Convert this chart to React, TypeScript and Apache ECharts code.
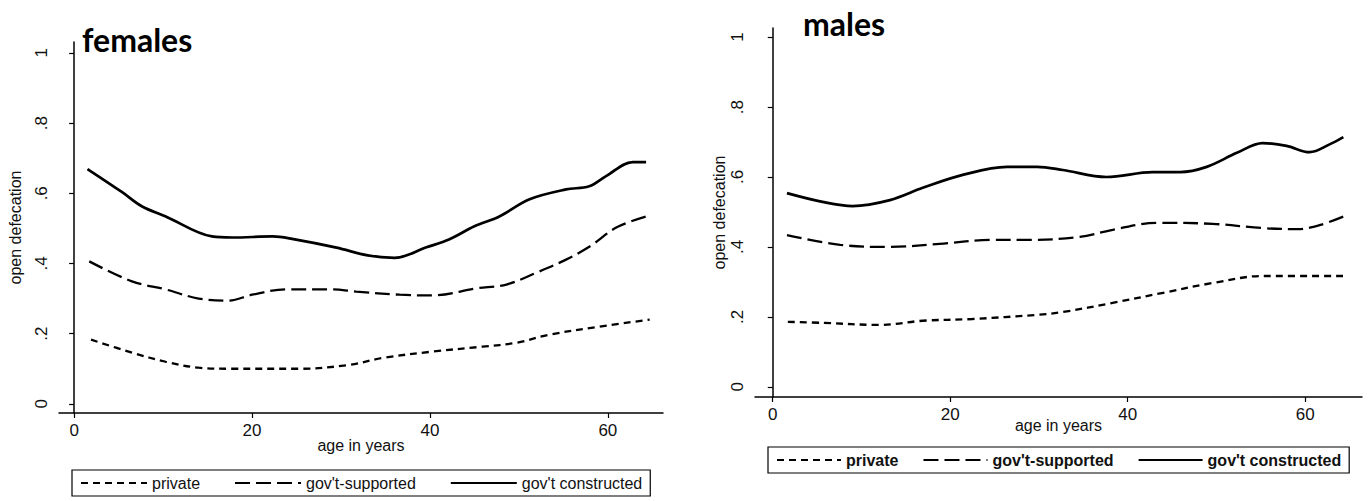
import React, { useEffect, useRef } from "react";
import * as echarts from "echarts";

// ---------- data ----------
const seriesNames = ["private", "gov't-supported", "gov't constructed"];
const xTicks = [0, 20, 40, 60];
const yTicks = [0, 0.2, 0.4, 0.6, 0.8, 1];

// females
const fPrivateAge = [1.9, 6.5, 10.3, 14, 17.8, 25.3, 30.9, 34.7, 40.3, 45.9, 49.7, 53.4, 59, 64.7];
const fPrivateVal = [0.183, 0.146, 0.12, 0.103, 0.1, 0.1, 0.111, 0.131, 0.149, 0.163, 0.174, 0.197, 0.22, 0.24];
const fSupportedAge = [1.7, 6.5, 10.3, 14, 17.4, 20, 23.8, 29, 31.7, 36.6, 40.3, 45.2, 48.6, 52, 55.3, 58, 61, 64.3];
const fSupportedVal = [0.406, 0.349, 0.326, 0.3, 0.294, 0.311, 0.326, 0.326, 0.32, 0.311, 0.309, 0.329, 0.34, 0.374, 0.411, 0.449, 0.503, 0.534];
const fConstructedAge = [1.5, 5.4, 7.6, 10.3, 15.5, 17.8, 22.3, 24.5, 29.5, 33, 36, 39.6, 42.2, 45, 47.8, 51.2, 55.3, 57.9, 59.8, 62.8, 64.3];
const fConstructedVal = [0.669, 0.603, 0.563, 0.534, 0.477, 0.474, 0.477, 0.47, 0.445, 0.423, 0.416, 0.446, 0.469, 0.506, 0.534, 0.583, 0.611, 0.62, 0.649, 0.689, 0.689];

// males
const mPrivateAge = [1.7, 5.6, 12.1, 16.9, 22.5, 29.8, 32.7, 38.3, 44, 49.6, 55.2, 64.7];
const mPrivateVal = [0.186, 0.183, 0.177, 0.189, 0.194, 0.206, 0.214, 0.24, 0.269, 0.297, 0.317, 0.317];
const mSupportedAge = [1.6, 7.6, 13.2, 18.8, 24.5, 29, 34.6, 38.3, 43.3, 49.6, 55.2, 59.1, 61.7, 64.5];
const mSupportedVal = [0.434, 0.406, 0.4, 0.409, 0.42, 0.42, 0.429, 0.449, 0.469, 0.466, 0.454, 0.451, 0.463, 0.489];
const mConstructedAge = [1.6, 5.6, 9, 13.2, 16.9, 21.4, 26.4, 29.8, 32.7, 37.6, 42.8, 45.9, 48.9, 52.3, 55.2, 57.9, 60.5, 62.8, 64.3];
const mConstructedVal = [0.554, 0.529, 0.517, 0.534, 0.569, 0.606, 0.629, 0.629, 0.62, 0.6, 0.614, 0.614, 0.629, 0.669, 0.697, 0.689, 0.671, 0.694, 0.714];

const pairs = (a: number[], v: number[]) => a.map((x, i) => [x, v[i]]);

const FONT = "Liberation Sans, Arial, sans-serif";

const lineStyles: any[] = [
  { color: "#000", width: 2.3, type: [7, 5] },
  { color: "#000", width: 2.3, type: [15, 6] },
  { color: "#000", width: 2.7, type: "solid" },
];

const yFmt = (v: number) => (v === 0 ? "0" : v === 1 ? "1" : String(v).replace("0.", "."));

function makeY(gridIndex: number, min: number, max: number, nameGap: number) {
  return {
    type: "value",
    gridIndex,
    min,
    max,
    name: "open defecation",
    nameLocation: "middle",
    nameRotate: 90,
    nameGap,
    nameMoveOverlap: false,
    nameTextStyle: { fontFamily: FONT, fontSize: 16, color: "#111" },
    splitLine: { show: false },
    axisLine: { show: true, lineStyle: { color: "#000", width: 1.5 } },
    axisTick: { show: true, length: 5, customValues: yTicks, lineStyle: { color: "#000", width: 1.2 } },
    axisLabel: {
      customValues: yTicks,
      rotate: 90,
      margin: 9,
      formatter: yFmt,
      fontFamily: FONT,
      fontSize: 17,
      color: "#111",
    },
  };
}

function makeX(gridIndex: number, min: number, max: number, nameGap: number) {
  return {
    type: "value",
    gridIndex,
    min,
    max,
    name: "age in years",
    nameLocation: "middle",
    nameGap,
    nameMoveOverlap: false,
    nameTextStyle: { fontFamily: FONT, fontSize: 16, color: "#111" },
    splitLine: { show: false },
    axisLine: { show: true, onZero: false, lineStyle: { color: "#000", width: 1.5 } },
    axisTick: { show: true, length: 5, customValues: xTicks, lineStyle: { color: "#000", width: 1.2 } },
    axisLabel: {
      customValues: xTicks,
      margin: 9,
      fontFamily: FONT,
      fontSize: 17,
      color: "#111",
    },
  };
}

function makeLegend(left: number, top: number, bold: boolean, gap: number, itemWidth: number) {
  return {
    data: seriesNames,
    left,
    top,
    orient: "horizontal",
    itemWidth,
    itemHeight: 14,
    itemGap: gap,
    padding: [5, 8],
    borderColor: "#000",
    borderWidth: 1.2,
    selectedMode: false,
    itemStyle: { opacity: 0 },
    textStyle: { fontFamily: FONT, fontSize: 16, color: "#111", fontWeight: bold ? "bold" : "normal" },
  };
}

export default function App() {
  const ref = useRef<HTMLDivElement>(null);
  useEffect(() => {
    document.body.style.margin = "0";
    const chart = echarts.init(ref.current!, null, { renderer: "svg" });
    const data = [
      [pairs(fPrivateAge, fPrivateVal), pairs(fSupportedAge, fSupportedVal), pairs(fConstructedAge, fConstructedVal)],
      [pairs(mPrivateAge, mPrivateVal), pairs(mSupportedAge, mSupportedVal), pairs(mConstructedAge, mConstructedVal)],
    ];
    const series: any[] = [];
    data.forEach((panel, p) => {
      panel.forEach((d, i) => {
        series.push({
          type: "line",
          name: seriesNames[i],
          xAxisIndex: p,
          yAxisIndex: p,
          data: d,
          smooth: 0.35,
          symbol: "none",
          lineStyle: lineStyles[i],
          itemStyle: { color: "#000" },
        });
      });
    });
    chart.setOption({
      animation: false,
      backgroundColor: "#fff",
      title: [
        {
          text: "females",
          left: 77,
          top: 18,
          textStyle: { fontFamily: "Lato, sans-serif", fontWeight: "bold", fontSize: 32, color: "#000" },
        },
        {
          text: "males",
          left: 798,
          top: 2,
          textStyle: { fontFamily: "Lato, sans-serif", fontWeight: "bold", fontSize: 32, color: "#000" },
        },
      ],
      grid: [
        { left: 59, top: 42, width: 604, height: 371 },
        { left: 755, top: 28, width: 607, height: 369 },
      ],
      xAxis: [makeX(0, -1.7, 66.2, 24), makeX(1, -2.0, 66.4, 20)],
      yAxis: [makeY(0, -0.026, 1.031, 36), makeY(1, -0.029, 1.026, 28)],
      legend: [makeLegend(72, 470, false, 34, 66), makeLegend(768, 447, true, 24, 64)],
      series,
    });
    return () => chart.dispose();
  }, []);
  return <div ref={ref} style={{ width: 1370, height: 501 }} />;
}
